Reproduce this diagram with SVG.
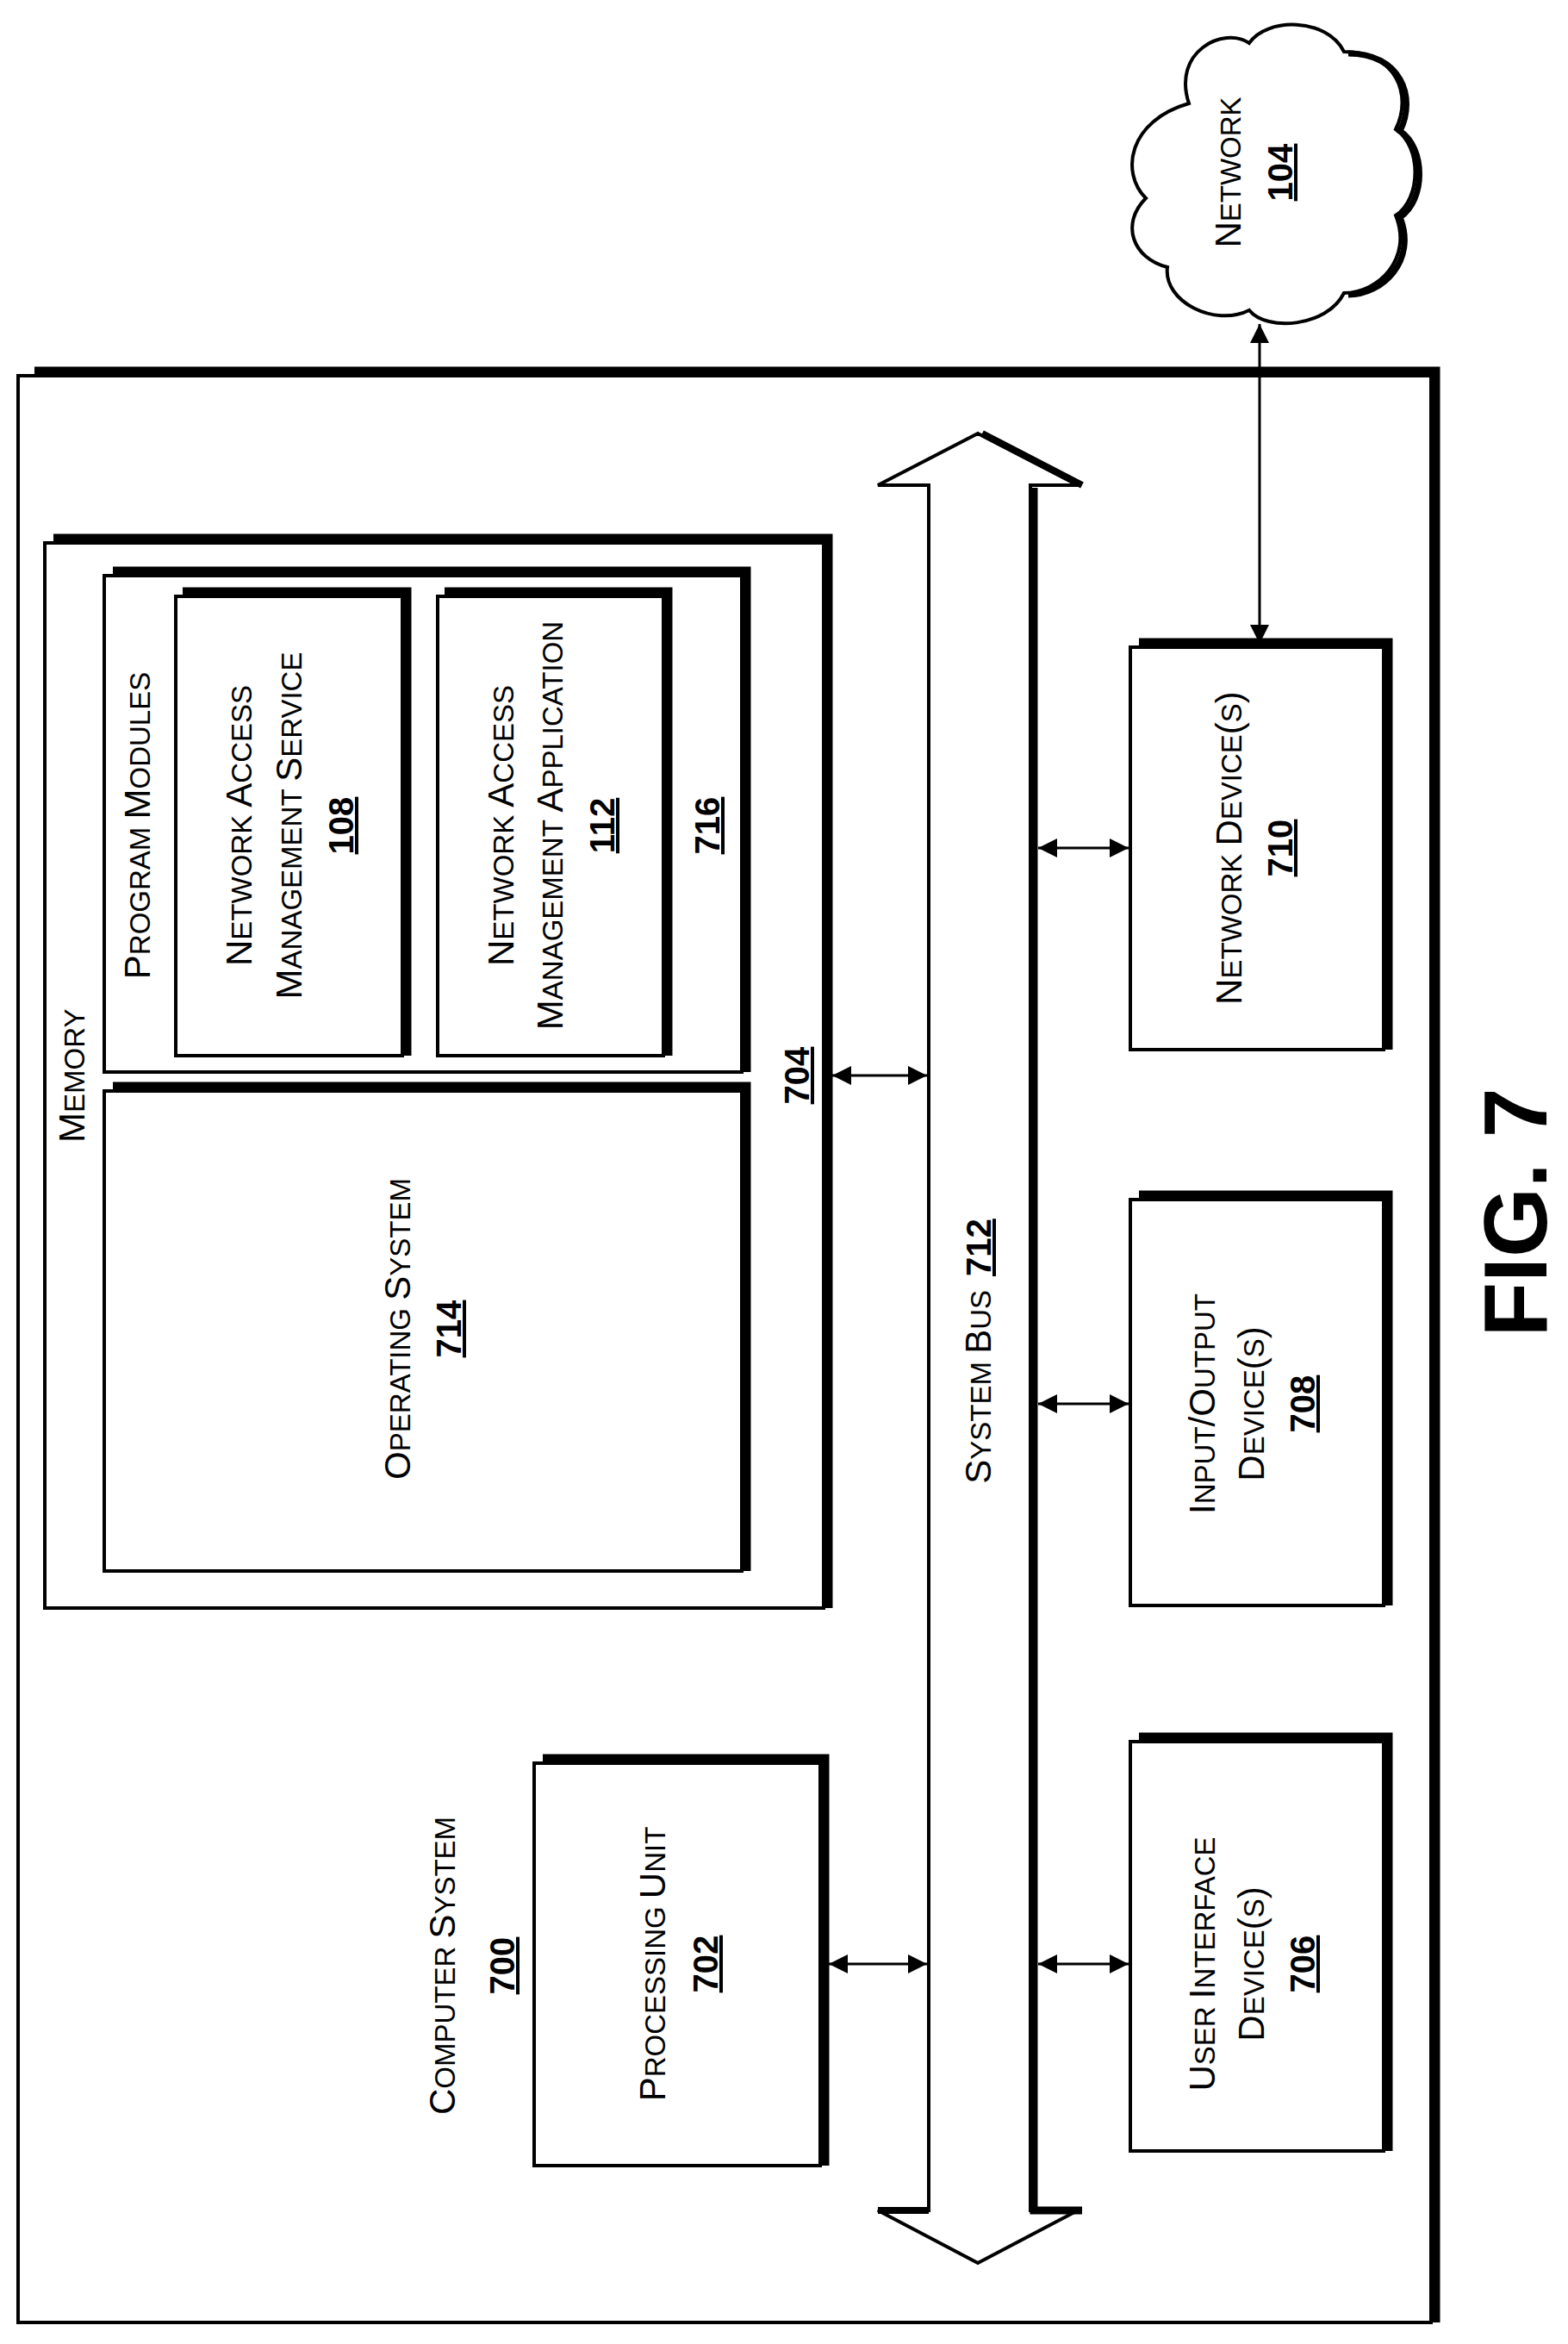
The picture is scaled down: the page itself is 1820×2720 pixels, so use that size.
<svg xmlns="http://www.w3.org/2000/svg" width="1820" height="2720" viewBox="0 0 1820 2720">
<style>
.box{fill:#fff;stroke:#000;stroke-width:4}
.sh{fill:none;stroke:#000;stroke-width:9}
.t{font-family:"Liberation Sans",Arial,sans-serif;font-size:42px;fill:#000;text-anchor:middle}
.s{font-size:33px}
.n{font-weight:bold;text-decoration:underline;font-size:40px}
</style>
<defs>
<marker id="b" viewBox="0 0 10 10" refX="10" refY="5" markerWidth="22" markerHeight="22" orient="auto-start-reverse" markerUnits="userSpaceOnUse"><path d="M0,0L10,5L0,10z"/></marker>
</defs>
<g id="computer-system">
<polyline class="sh" points="40,430 1667,430 1667,2695"/>
<rect class="box" x="21" y="436" width="1640" height="2259"/>
<text class="t" transform="translate(528,2281) rotate(-90)">C<tspan class="s">OMPUTER </tspan>S<tspan class="s">YSTEM</tspan></text>
<text class="t n" transform="translate(597,2281) rotate(-90)">700</text>
</g>
<g id="network">
<path d="M1380,120 C1360,60 1420,30 1450,50 C1470,20 1540,20 1560,60 C1620,60 1640,110 1620,150 C1650,170 1650,230 1620,250 C1640,300 1600,340 1560,340 C1540,380 1470,385 1450,360 C1410,380 1350,350 1355,310 C1315,300 1300,260 1330,230 C1300,200 1310,140 1380,120 Z" fill="#fff" stroke="#000" stroke-width="4"/>
<path d="M1560,60 C1620,60 1640,110 1620,150 C1650,170 1650,230 1620,250 C1640,300 1600,340 1560,340" fill="none" stroke="#000" stroke-width="7" transform="translate(5,2)"/>
<text class="t" transform="translate(1440,200) rotate(-90)">N<tspan class="s">ETWORK</tspan></text>
<text class="t n" transform="translate(1500,200) rotate(-90)">104</text>
</g>
<g id="memory">
<polyline class="sh" points="62,624 962,624 962,1866"/>
<rect class="box" x="52" y="630" width="904" height="1236"/>
<text class="t" transform="translate(98,1326) rotate(-90)" style="text-anchor:start">M<tspan class="s">EMORY</tspan></text>
<text class="t n" transform="translate(939,1248) rotate(-90)">704</text>
</g>
<g id="program-modules">
<polyline class="sh" points="131,662 867,662 867,1244"/>
<rect class="box" x="121" y="668" width="740" height="576"/>
<text class="t" transform="translate(174,958) rotate(-90)">P<tspan class="s">ROGRAM </tspan>M<tspan class="s">ODULES</tspan></text>
<text class="t n" transform="translate(835,958) rotate(-90)">716</text>
</g>
<g id="nams">
<polyline class="sh" points="212,686 473,686 473,1225"/>
<rect class="box" x="204" y="692" width="263" height="533"/>
<text class="t" transform="translate(292,958) rotate(-90)">N<tspan class="s">ETWORK </tspan>A<tspan class="s">CCESS</tspan></text>
<text class="t" transform="translate(350,958) rotate(-90)">M<tspan class="s">ANAGEMENT </tspan>S<tspan class="s">ERVICE</tspan></text>
<text class="t n" transform="translate(410,958) rotate(-90)">108</text>
</g>
<g id="nama">
<polyline class="sh" points="516,686 776,686 776,1225"/>
<rect class="box" x="508" y="692" width="262" height="533"/>
<text class="t" transform="translate(596,958) rotate(-90)">N<tspan class="s">ETWORK </tspan>A<tspan class="s">CCESS</tspan></text>
<text class="t" transform="translate(653,958) rotate(-90)">M<tspan class="s">ANAGEMENT </tspan>A<tspan class="s">PPLICATION</tspan></text>
<text class="t n" transform="translate(713,958) rotate(-90)">112</text>
</g>
<g id="os">
<polyline class="sh" points="131,1260 867,1260 867,1823"/>
<rect class="box" x="121" y="1266" width="740" height="557"/>
<text class="t" transform="translate(476,1542) rotate(-90)">O<tspan class="s">PERATING </tspan>S<tspan class="s">YSTEM</tspan></text>
<text class="t n" transform="translate(535,1542) rotate(-90)">714</text>
</g>
<g id="processing-unit">
<polyline class="sh" points="630,2040 958,2040 958,2513"/>
<rect class="box" x="620" y="2046" width="332" height="467"/>
<text class="t" transform="translate(772,2279) rotate(-90)">P<tspan class="s">ROCESSING </tspan>U<tspan class="s">NIT</tspan></text>
<text class="t n" transform="translate(833,2279) rotate(-90)">702</text>
</g>
<g id="system-bus">
<polygon points="1135,503 1251,563 1196,563 1196,2565 1251,2565 1135,2626 1019,2565 1078,2565 1078,563 1019,563" fill="#fff" stroke="#000" stroke-width="4"/>
<polyline points="1140,503 1256,563" fill="none" stroke="#000" stroke-width="8"/>
<polyline points="1200,566 1200,2565 1256,2565" fill="none" stroke="#000" stroke-width="9"/>
<polyline points="1019,2565 1078,2565" fill="none" stroke="#000" stroke-width="8"/>
<text class="t" transform="translate(1150,1568) rotate(-90)">S<tspan class="s">YSTEM </tspan>B<tspan class="s">US</tspan><tspan class="n" dx="16">712</tspan></text>
</g>
<g id="network-device">
<polyline class="sh" points="1322,745 1612,745 1612,1218"/>
<rect class="box" x="1312" y="751" width="294" height="467"/>
<text class="t" transform="translate(1441,984) rotate(-90)">N<tspan class="s">ETWORK </tspan>D<tspan class="s">EVICE</tspan>(<tspan class="s">S</tspan>)</text>
<text class="t n" transform="translate(1500,984) rotate(-90)">710</text>
</g>
<g id="io-device">
<polyline class="sh" points="1322,1386 1612,1386 1612,1863"/>
<rect class="box" x="1312" y="1392" width="294" height="471"/>
<text class="t" transform="translate(1410,1629) rotate(-90)">I<tspan class="s">NPUT</tspan>/O<tspan class="s">UTPUT</tspan></text>
<text class="t" transform="translate(1467,1629) rotate(-90)">D<tspan class="s">EVICE</tspan>(<tspan class="s">S</tspan>)</text>
<text class="t n" transform="translate(1526,1629) rotate(-90)">708</text>
</g>
<g id="ui-device">
<polyline class="sh" points="1322,2015 1612,2015 1612,2496"/>
<rect class="box" x="1312" y="2021" width="294" height="475"/>
<text class="t" transform="translate(1410,2279) rotate(-90)">U<tspan class="s">SER </tspan>I<tspan class="s">NTERFACE</tspan></text>
<text class="t" transform="translate(1467,2279) rotate(-90)">D<tspan class="s">EVICE</tspan>(<tspan class="s">S</tspan>)</text>
<text class="t n" transform="translate(1526,2279) rotate(-90)">706</text>
</g>
<g id="connectors" fill="none" stroke="#000" stroke-width="3">
<line x1="1462" y1="376" x2="1462" y2="747" marker-start="url(#b)" marker-end="url(#b)"/>
<line x1="966" y1="1248" x2="1076" y2="1248" marker-start="url(#b)" marker-end="url(#b)"/>
<line x1="962" y1="2279" x2="1076" y2="2279" marker-start="url(#b)" marker-end="url(#b)"/>
<line x1="1205" y1="984" x2="1310" y2="984" marker-start="url(#b)" marker-end="url(#b)"/>
<line x1="1205" y1="1629" x2="1310" y2="1629" marker-start="url(#b)" marker-end="url(#b)"/>
<line x1="1205" y1="2279" x2="1310" y2="2279" marker-start="url(#b)" marker-end="url(#b)"/>
</g>
<text class="t" style="font-size:104px;font-weight:bold" transform="translate(1795,1407) rotate(-90)">FIG. 7</text>
</svg>
